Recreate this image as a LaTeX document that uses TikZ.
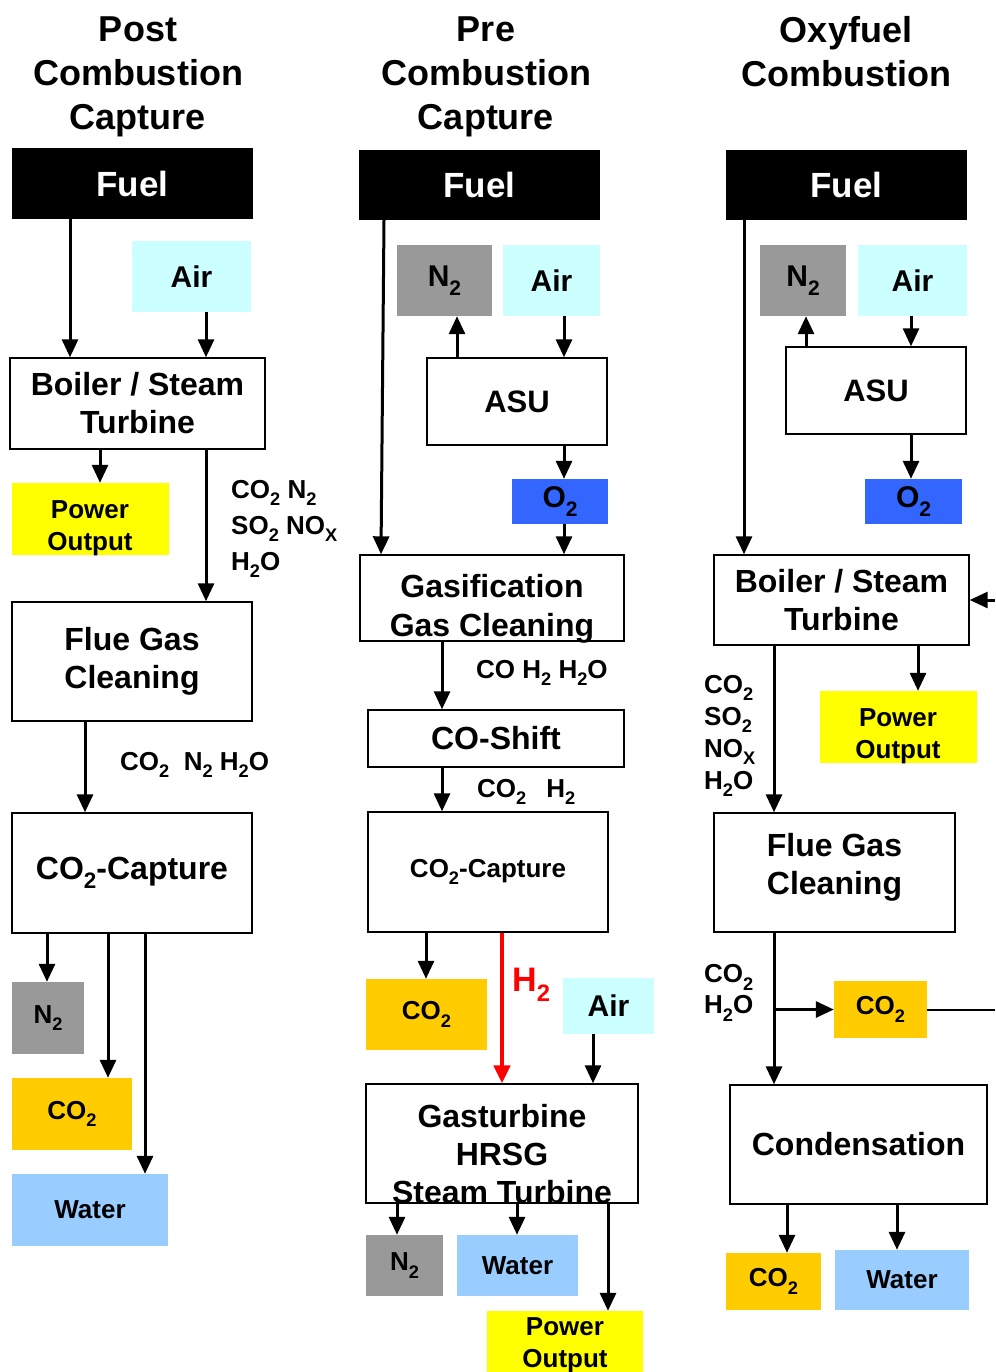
\documentclass[tikz,border=0pt]{standalone}
\usepackage{fontspec}
\setmainfont{Liberation Sans}
\usepackage{xcolor}
\usepackage{graphicx}
\usepackage{tikz}
\usetikzlibrary{arrows.meta,positioning,calc}

\definecolor{aircol}{HTML}{CCFFFF}
\definecolor{nitcol}{HTML}{999999}
\definecolor{powcol}{HTML}{FFFF00}
\definecolor{cocol}{HTML}{FFCC00}
\definecolor{watcol}{HTML}{99CCFF}
\definecolor{oxcol}{HTML}{3366FF}

\newcommand\setfs[2]{\fontsize{#1}{#2}\selectfont\bfseries}
\newcommand\chemsub[1]{\raisebox{-0.28em}{\scalebox{0.7}{#1}}}

\begin{document}
\begin{tikzpicture}[x=1pt, y=-1pt,
      head/.style={align=center, inner sep=0pt, font=\setfs{36}{44}},
      fuelbox/.style={fill=black, text=white, inner sep=0pt, font=\setfs{35}{42}},
      unit/.style={draw, fill=white, line width=1.4pt, inner sep=0pt, align=center,
                   font=\setfs{32}{38}},
      feed/.style={inner sep=0pt, align=center, font=\setfs{26}{32}},
      topfeed/.style={feed, font=\setfs{30}{36}},
      gas/.style={anchor=west, inner sep=0pt, align=left, font=\setfs{26}{36}},
      flow/.style={->, line width=3pt},
      >={Triangle[length=18pt,width=16pt]}]

    \useasboundingbox (0,0) rectangle (995,1372);

    \node[head] (hdA) at (138,77) {Post\\Combustion\\Capture};
    \node[head] (hdB) at (486,77) {Pre\\Combustion\\Capture};
    \node[head] (hdC) at (846,52) {Oxyfuel\\Combustion};

    % post combustion
    \node[fuelbox, minimum width=241pt, minimum height=71pt] (fuelA) at (132.5,183.5) {Fuel};
    \node[topfeed, fill=aircol, minimum width=119pt, minimum height=71pt] (airA) at (191.5,276.5) {Air};
    \node[unit, minimum width=255pt, minimum height=91pt] (boilA) at (137.5,403.5)
      {Boiler / Steam\\Turbine};
    \node[feed, fill=powcol, minimum width=157pt, minimum height=72pt] (powA) at (90.5,519) {};
    \node[feed] (powAtxt) at (90,528.5) {Power\\Output};
    \node[unit, minimum width=240pt, minimum height=119pt] (flueA) at (132,661.5) {Flue Gas\\Cleaning};
    \node[unit, minimum width=240pt, minimum height=120pt] (capA) at (132,873) {CO\chemsub{2}-Capture};
    \node[feed, fill=nitcol, minimum width=72pt, minimum height=72pt] (nitA) at (48,1018) {N\chemsub{2}};
    \node[feed, fill=cocol, minimum width=120pt, minimum height=72pt] (coA) at (72,1114) {CO\chemsub{2}};
    \node[feed, fill=watcol, minimum width=156pt, minimum height=72pt] (watA) at (90,1210) {Water};
    \node[gas] (gasA) at (231,529) {CO\chemsub{2} N\chemsub{2}\\SO\chemsub{2} NO\chemsub{X}\\H\chemsub{2}O};
    \node[gas] (gasA2) at (120,765) {CO\chemsub{2}\ \ N\chemsub{2} H\chemsub{2}O};

    \draw[flow] (fuelA.south -| 70,0) -- (boilA.north -| 70,0);
    \draw[flow] (airA.south -| 206,0) -- (boilA.north -| 206,0);
    \draw[flow] (boilA.south -| 100,0) -- (powA.north -| 100,0);
    \draw[flow] (boilA.south -| 206,0) -- (flueA.north -| 206,0);
    \draw[flow] (flueA.south -| 85,0) -- (capA.north -| 85,0);
    \draw[flow] (capA.south -| 47,0) -- (nitA.north -| 47,0);
    \draw[flow] (capA.south -| 108,0) -- (coA.north -| 108,0);
    \draw[flow] (capA.south -| 145,0) -- (watA.north -| 145,0);

    % pre combustion
    \node[fuelbox, minimum width=241pt, minimum height=70pt] (fuelB) at (479.5,185) {Fuel};
    \node[topfeed, fill=nitcol, minimum width=95pt, minimum height=71pt] (nitB) at (444.5,280.5) {N\chemsub{2}};
    \node[topfeed, fill=aircol, minimum width=97pt, minimum height=71pt] (airB) at (551.5,280.5) {Air};
    \node[unit, font=\setfs{31}{38}, minimum width=180pt, minimum height=87pt] (asuB) at (517,401.5) {ASU};
    \node[topfeed, fill=oxcol, minimum width=96pt, minimum height=45pt] (oxB) at (560,501.5) {O\chemsub{2}};
    \node[unit, minimum width=264pt, minimum height=86pt] (gasfB) at (492,598) {};
    \node[feed, font=\setfs{32}{39}] (gasfBtxt) at (492,608.5) {Gasification\\Gas Cleaning};
    \node[unit, minimum width=256pt, minimum height=57pt] (shiftB) at (496,738.5) {CO-Shift};
    \node[unit, font=\setfs{26}{32}, minimum width=240pt, minimum height=120pt] (capB) at (488,872)
      {CO\chemsub{2}-Capture};
    \node[feed, fill=cocol, minimum width=121pt, minimum height=71pt] (coB) at (426.5,1014.5) {CO\chemsub{2}};
    \node[topfeed, fill=aircol, minimum width=91pt, minimum height=56pt] (airB2) at (608.5,1006) {Air};
    \node[unit, minimum width=272pt, minimum height=119pt] (gtB) at (502,1143.5) {};
    \node[feed, font=\setfs{32}{38}] (gtBtxt) at (502,1154) {Gasturbine\\HRSG\\Steam Turbine};
    \node[feed, fill=nitcol, minimum width=77pt, minimum height=61pt] (nitB2) at (404.5,1265.5) {N\chemsub{2}};
    \node[feed, fill=watcol, minimum width=121pt, minimum height=61pt] (watB) at (517.5,1265.5) {Water};
    \node[feed, fill=powcol, minimum width=156pt, minimum height=70pt] (powB) at (565,1346) {};
    \node[feed] (powBtxt) at (565,1345) {Power\\Output};
    \node[gas] (gasB) at (476,673) {CO H\chemsub{2} H\chemsub{2}O};
    \node[gas] (gasB2) at (477,792) {CO\chemsub{2}\hspace{20pt}H\chemsub{2}};
    \node[gas, text=red, font=\setfs{34}{40}] (hydB) at (512,985) {H\chemsub{2}};

    \draw[flow] (fuelB.south -| 384,0) -- (gasfB.north -| 381,0);
    \draw[flow] (asuB.north -| 457,0) -- (nitB.south -| 457,0);
    \draw[flow] (airB.south -| 564,0) -- (asuB.north -| 564,0);
    \draw[flow] (asuB.south -| 564,0) -- (oxB.north -| 564,0);
    \draw[flow] (oxB.south -| 564,0) -- (gasfB.north -| 564,0);
    \draw[flow] (gasfB.south -| 442,0) -- (shiftB.north -| 442,0);
    \draw[flow] (shiftB.south -| 442,0) -- (capB.north -| 442,0);
    \draw[flow] (capB.south -| 426,0) -- (coB.north -| 426,0);
    \draw[flow, red, line width=4.5pt] (capB.south -| 502,0) -- (gtB.north -| 502,0);
    \draw[flow] (airB2.south -| 593,0) -- (gtB.north -| 593,0);
    \draw[flow] (gtB.south -| 397,0) -- (nitB2.north -| 397,0);
    \draw[flow] (gtB.south -| 517,0) -- (watB.north -| 517,0);
    \draw[flow] (gtB.south -| 608,0) -- (powB.north -| 608,0);

    % oxyfuel
    \node[fuelbox, minimum width=241pt, minimum height=70pt] (fuelC) at (846.5,185) {Fuel};
    \node[topfeed, fill=nitcol, minimum width=86pt, minimum height=71pt] (nitC) at (803,280.5) {N\chemsub{2}};
    \node[topfeed, fill=aircol, minimum width=109pt, minimum height=71pt] (airC) at (912.5,280.5) {Air};
    \node[unit, font=\setfs{31}{38}, minimum width=180pt, minimum height=87pt] (asuC) at (876,390.5) {ASU};
    \node[topfeed, fill=oxcol, minimum width=97pt, minimum height=45pt] (oxC) at (913.5,501.5) {O\chemsub{2}};
    \node[unit, minimum width=255pt, minimum height=90pt] (boilC) at (841.5,600) {Boiler / Steam\\Turbine};
    \node[feed, fill=powcol, minimum width=157pt, minimum height=72pt] (powC) at (898.5,727) {};
    \node[feed] (powCtxt) at (898,736.5) {Power\\Output};
    \node[unit, minimum width=241pt, minimum height=119pt] (flueC) at (834.5,872.5) {};
    \node[feed, font=\setfs{32}{38}] (flueCtxt) at (834.5,867) {Flue Gas\\Cleaning};
    \node[feed, fill=cocol, minimum width=93pt, minimum height=57pt] (coC) at (880.5,1009.5) {CO\chemsub{2}};
    \node[unit, minimum width=257pt, minimum height=119pt] (condC) at (858.5,1144.5) {Condensation};
    \node[feed, fill=cocol, minimum width=95pt, minimum height=57pt] (coC2) at (773.5,1281.5) {CO\chemsub{2}};
    \node[feed, fill=watcol, minimum width=134pt, minimum height=60pt] (watC) at (902,1280) {Water};
    \node[gas, font=\setfs{26}{32}] (gasC) at (704,736) {CO\chemsub{2}\\SO\chemsub{2}\\NO\chemsub{X}\\H\chemsub{2}O};
    \node[gas, font=\setfs{26}{31}] (gasC2) at (704,993) {CO\chemsub{2}\\H\chemsub{2}O};
    \coordinate (recycin) at (995,600);
    \coordinate (recycout) at (995,1008);

    \draw[flow] (fuelC.south -| 744,0) -- (boilC.north -| 744,0);
    \draw[flow] (asuC.north -| 806,0) -- (nitC.south -| 806,0);
    \draw[flow] (airC.south -| 911,0) -- (asuC.north -| 911,0);
    \draw[flow] (asuC.south -| 911,0) -- (oxC.north -| 911,0);
    \draw[flow] (recycin) -- (recycin -| boilC.east);
    \draw[flow] (boilC.south -| 918,0) -- (powC.north -| 918,0);
    \draw[flow] (boilC.south -| 774,0) -- (flueC.north -| 774,0);
    \draw[flow] (flueC.south -| 774,0) -- (condC.north -| 774,0);
    \draw[flow] (coC.west -| 774,0) -- (coC.west);
    \draw[line width=2pt] (coC.east) -- (coC.east -| recycout);
    \draw[flow] (condC.south -| 787,0) -- (coC2.north -| 787,0);
    \draw[flow] (condC.south -| 897,0) -- (watC.north -| 897,0);
  \end{tikzpicture}
\end{document}
